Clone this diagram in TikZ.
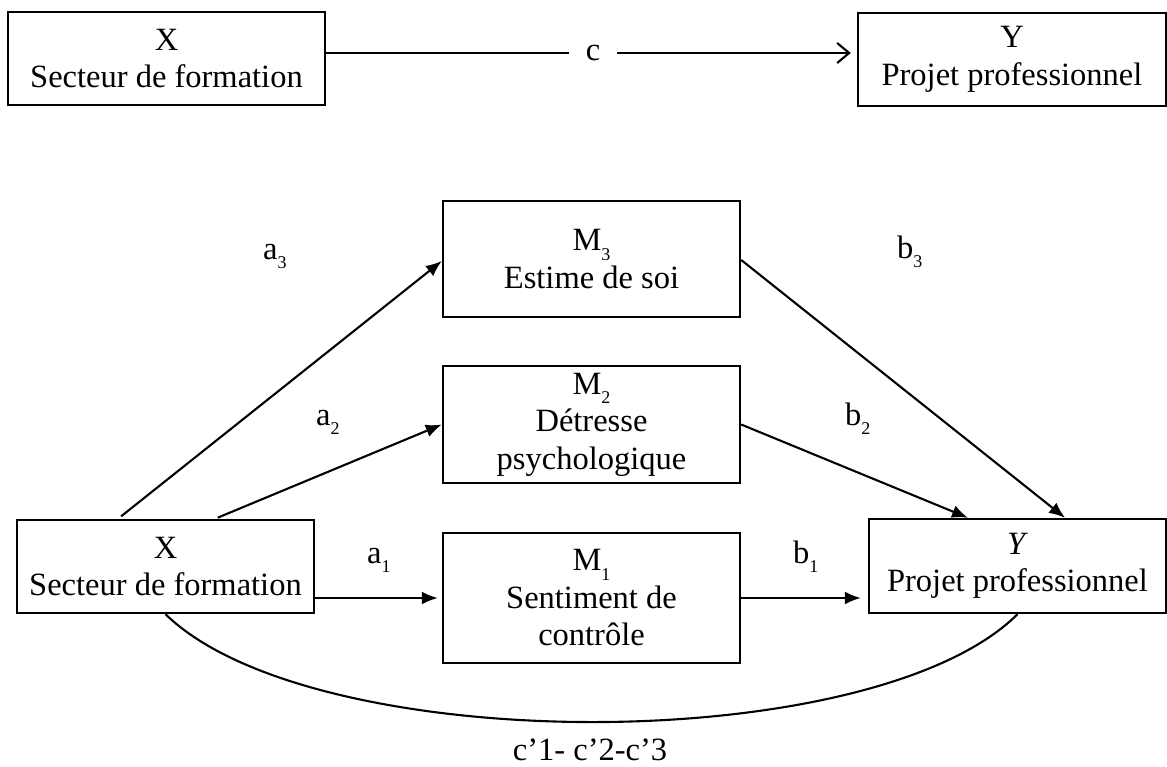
\documentclass[tikz,border=0pt]{standalone}
\usepackage{fontspec}
\setmainfont{Liberation Serif}
\usetikzlibrary{arrows.meta,calc}
\newcommand{\sbx}[1]{\raisebox{-9.5pt}{\fontsize{18}{18}\selectfont #1}}
\begin{document}
\begin{tikzpicture}[x=1pt,y=-1pt,
  box/.style={draw, line width=2.4pt, inner sep=0pt, align=center, font=\fontsize{32.5}{37.5}\selectfont},
  lbl/.style={inner sep=0pt, anchor=base west, font=\fontsize{32.5}{38}\selectfont},
  ln/.style={line width=2.1pt},
  conn/.style={line width=2.1pt, -{Latex[length=16pt,width=13pt]}},
  ]
\useasboundingbox (0,0) rectangle (1167,766);
% top model
\node[box, minimum width=317pt, minimum height=93pt] (xt) at (166.5,58.5) {X\\Secteur de formation};
\node[box, minimum width=308pt, minimum height=93pt] (yt) at (1012,59.5) {Y\\Projet professionnel};
\node[inner xsep=17pt, inner ysep=0pt, font=\fontsize{32.5}{38}\selectfont] (c) at (593,53) {c};
\draw[ln] (xt.east |- c.west) -- (c.west);
\draw[ln, -{Straight Barb[length=12pt,width=20pt]}, shorten >=6pt] (c.east) -- (yt.west |- c.east);
% mediation model
\node[box, minimum width=297pt, minimum height=93pt] (xb) at (165.5,566.5) {X\\Secteur de formation};
\node[box, minimum width=297pt, minimum height=94pt] (yb) at (1017.5,566) {\textit{Y}\\Projet professionnel};
\node[box, minimum width=297pt, minimum height=116pt] (m3) at (591.5,259) {M\sbx{3}\\Estime de soi};
\node[box, minimum width=297pt, minimum height=117pt] (m2) at (591.5,424.5) {M\sbx{2}\\Détresse\\psychologique};
\node[box, minimum width=297pt, minimum height=130pt] (m1) at (591.5,598) {M\sbx{1}\\Sentiment de\\contrôle};
\draw[conn, shorten <=4pt] ([xshift=-47.5pt]xb.north) -- ([yshift=-2pt]m3.west);
\draw[conn, shorten <=3pt] ([xshift=49.5pt]xb.north) -- (m2.west);
\draw[conn, shorten >=4pt] (xb.east |- m1.west) -- (m1.west);
\draw[conn] ([yshift=-1pt]m3.east) -- ([xshift=47.5pt]yb.north);
\draw[conn] (m2.east) -- ([xshift=-49.5pt]yb.north);
\draw[conn, shorten >=7pt] (m1.east) -- (yb.west |- m1.east);
\coordinate (k1) at (313,758);
\coordinate (k2) at (873,758);
\draw[ln] (xb.south) .. controls (k1) and (k2) .. (yb.south);
% labels
\node[lbl] (la3) at (263,259) {a\sbx{3}};
\node[lbl] (la2) at (316,425) {a\sbx{2}};
\node[lbl] (la1) at (367,563) {a\sbx{1}};
\node[lbl] (lb3) at (897,258) {b\sbx{3}};
\node[lbl] (lb2) at (845,425) {b\sbx{2}};
\node[lbl] (lb1) at (793,563) {b\sbx{1}};
\node[inner sep=0pt, anchor=base, font=\fontsize{32.5}{38}\selectfont] (lc) at (590,760) {c’1- c’2-c’3};
\end{tikzpicture}
\end{document}
